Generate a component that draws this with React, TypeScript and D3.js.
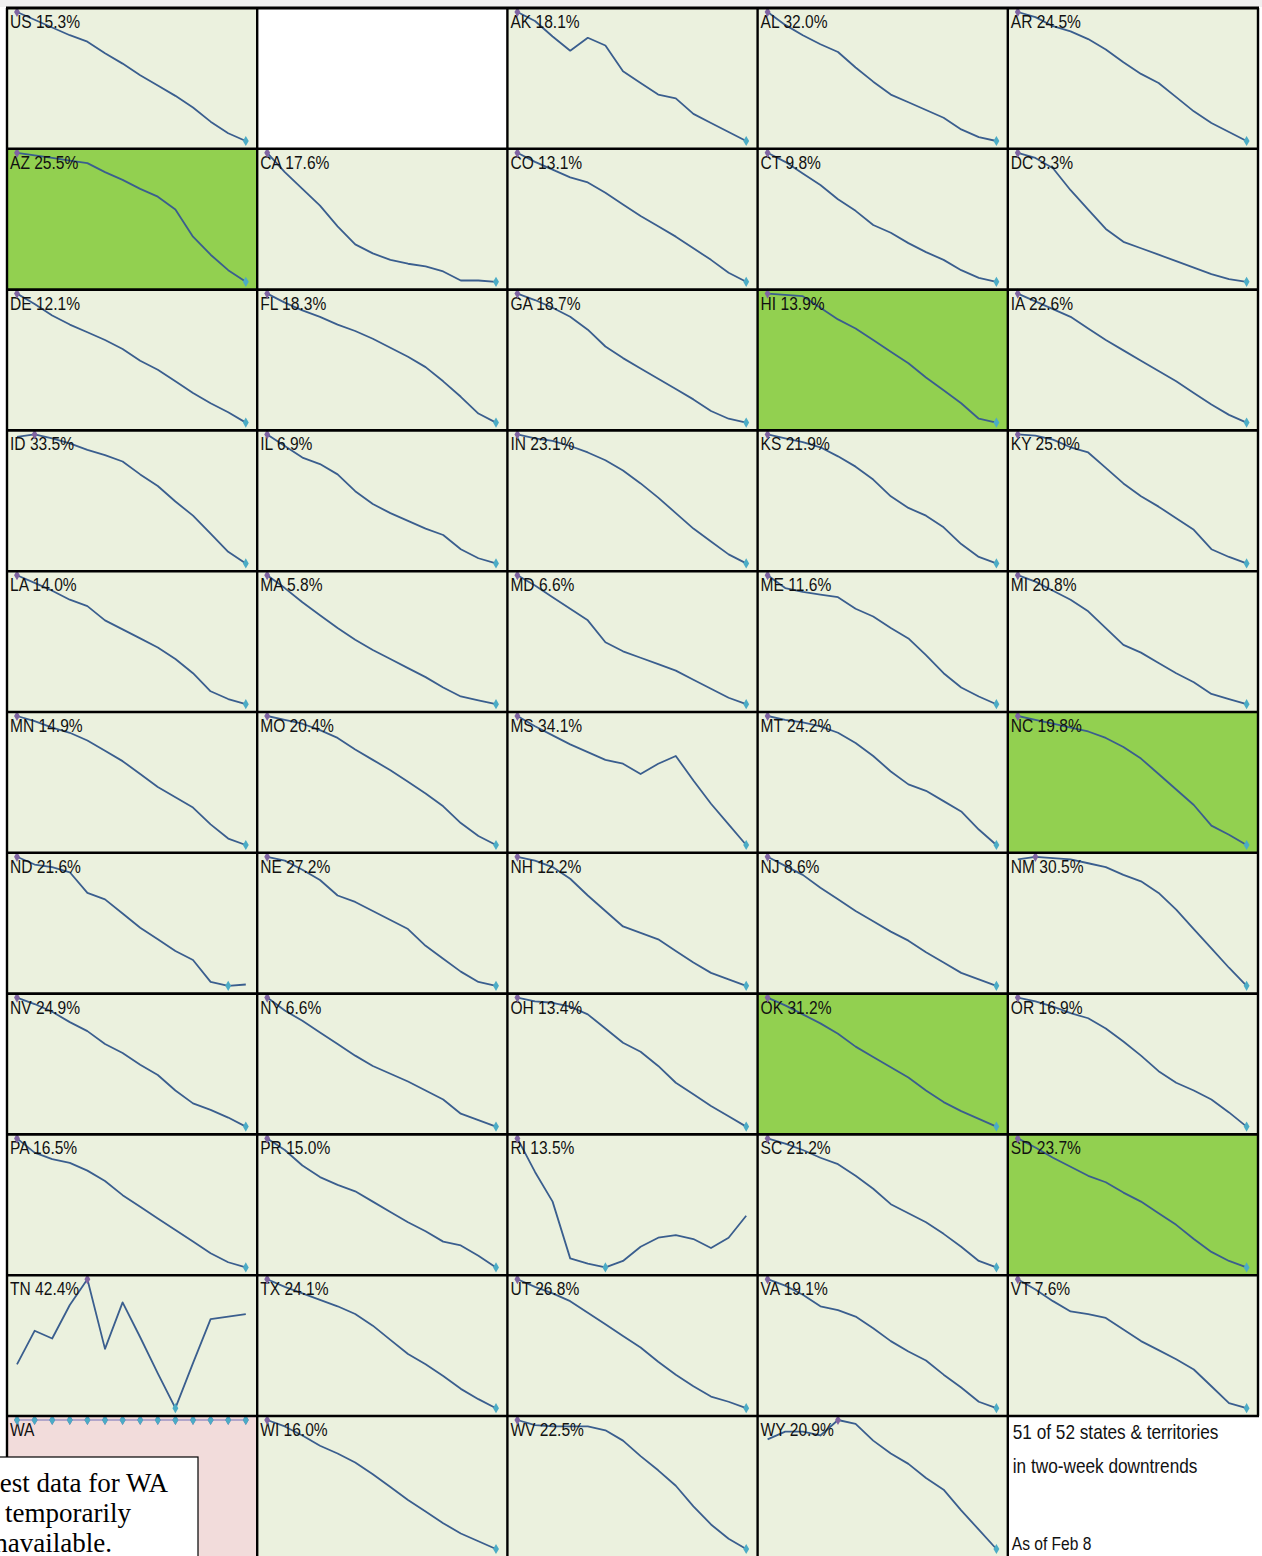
import { useEffect } from "react";
import * as d3 from "d3";

// grid order, 5 per row; null = empty slot
const CODES = [
  "US", null, "AK", "AL", "AR",
  "AZ", "CA", "CO", "CT", "DC",
  "DE", "FL", "GA", "HI", "IA",
  "ID", "IL", "IN", "KS", "KY",
  "LA", "MA", "MD", "ME", "MI",
  "MN", "MO", "MS", "MT", "NC",
  "ND", "NE", "NH", "NJ", "NM",
  "NV", "NY", "OH", "OK", "OR",
  "PA", "PR", "RI", "SC", "SD",
  "TN", "TX", "UT", "VA", "VT",
  "WA", "WI", "WV", "WY", null,
];

const CHANGES = [
  "15.3%", null, "18.1%", "32.0%", "24.5%",
  "25.5%", "17.6%", "13.1%", "9.8%", "3.3%",
  "12.1%", "18.3%", "18.7%", "13.9%", "22.6%",
  "33.5%", "6.9%", "23.1%", "21.9%", "25.0%",
  "14.0%", "5.8%", "6.6%", "11.6%", "20.8%",
  "14.9%", "20.4%", "34.1%", "24.2%", "19.8%",
  "21.6%", "27.2%", "12.2%", "8.6%", "30.5%",
  "24.9%", "6.6%", "13.4%", "31.2%", "16.9%",
  "16.5%", "15.0%", "13.5%", "21.2%", "23.7%",
  "42.4%", "24.1%", "26.8%", "19.1%", "7.6%",
  "", "16.0%", "22.5%", "20.9%", null,
];

const HIGHLIGHT = ["AZ", "HI", "NC", "OK", "SD"];
const MISSING = ["WA"];

// 14 readings per state, relative index
const US = [100, 94, 88, 82, 77, 68, 60, 51, 43, 35, 26, 15, 6, 0];
const AK = [100, 93, 81, 70, 80, 74, 54, 45, 36, 33, 21, 14, 7, 0];
const AL = [100, 90, 82, 75, 69, 57, 46, 36, 30, 24, 18, 9, 3, 0];
const AR = [100, 96, 89, 85, 79, 71, 61, 52, 45, 34, 23, 14, 7, 0];
const AZ = [100, 98, 96, 94, 92, 85, 79, 72, 66, 56, 35, 21, 9, 0];
const CA = [100, 85, 72, 59, 43, 29, 22, 17, 14, 12, 8, 1, 1, 0];
const CO = [100, 93, 87, 81, 77, 69, 60, 51, 43, 35, 26, 17, 7, 0];
const CT = [100, 93, 84, 75, 64, 55, 44, 38, 30, 23, 17, 9, 3, 0];
const DC = [100, 96, 88, 71, 56, 41, 31, 26, 21, 16, 11, 6, 2, 0];
const DE = [100, 92, 83, 76, 70, 64, 57, 48, 41, 32, 23, 15, 8, 0];
const FL = [100, 93, 87, 82, 76, 71, 65, 58, 51, 43, 32, 20, 7, 0];
const GA = [100, 95, 89, 82, 72, 59, 50, 42, 34, 26, 18, 9, 3, 0];
const HI = [100, 99, 98, 89, 80, 73, 64, 55, 46, 35, 25, 15, 3, 0];
const IA = [100, 94, 88, 82, 73, 64, 56, 48, 40, 32, 23, 14, 6, 0];
const ID = [98, 100, 97, 93, 88, 84, 79, 69, 60, 48, 37, 23, 9, 0];
const IL = [100, 91, 82, 77, 69, 56, 46, 39, 33, 27, 22, 11, 4, 0];
const IN = [100, 97, 95, 91, 86, 80, 72, 62, 51, 39, 27, 17, 7, 0];
const KS = [100, 97, 94, 90, 83, 75, 65, 52, 43, 37, 28, 15, 5, 0];
const KY = [100, 99, 96, 90, 86, 74, 62, 52, 44, 35, 26, 11, 5, 0];
const LA = [100, 94, 88, 81, 76, 65, 58, 51, 44, 35, 24, 10, 4, 0];
const MA = [100, 90, 79, 69, 59, 50, 42, 35, 28, 21, 13, 6, 3, 0];
const MD = [100, 92, 83, 74, 65, 48, 41, 36, 31, 26, 19, 12, 5, 0];
const ME = [100, 90, 87, 85, 83, 74, 68, 59, 51, 38, 24, 13, 6, 0];
const MI = [100, 95, 88, 81, 72, 59, 46, 40, 32, 24, 17, 8, 4, 0];
const MN = [100, 96, 91, 87, 81, 73, 65, 55, 45, 37, 29, 16, 5, 0];
const MO = [100, 97, 94, 89, 83, 74, 66, 58, 49, 40, 30, 17, 7, 0];
const MS = [100, 92, 85, 78, 72, 66, 63, 55, 63, 69, 50, 32, 16, 0];
const MT = [100, 97, 95, 92, 87, 79, 69, 57, 47, 42, 34, 26, 12, 0];
const NC = [100, 97, 94, 91, 88, 83, 76, 67, 55, 43, 31, 15, 8, 0];
const ND = [100, 94, 92, 88, 72, 67, 56, 45, 36, 27, 20, 3, 0, 1];
const NE = [100, 97, 90, 82, 70, 65, 58, 51, 44, 31, 21, 11, 3, 0];
const NH = [100, 97, 92, 83, 70, 58, 46, 41, 36, 27, 18, 10, 5, 0];
const NJ = [100, 93, 86, 76, 67, 58, 50, 42, 35, 26, 18, 10, 5, 0];
const NM = [98, 100, 99, 98, 95, 92, 86, 81, 72, 59, 44, 29, 14, 0];
const NV = [100, 95, 89, 81, 74, 64, 57, 48, 40, 28, 18, 13, 7, 0];
const NY = [100, 90, 82, 73, 64, 55, 47, 41, 35, 28, 21, 10, 5, 0];
const OH = [100, 97, 96, 93, 87, 76, 65, 58, 47, 34, 25, 16, 8, 0];
const OK = [100, 94, 87, 80, 72, 62, 54, 46, 38, 28, 19, 12, 6, 0];
const OR = [100, 97, 93, 88, 84, 76, 66, 55, 43, 34, 28, 21, 11, 0];
const PA = [100, 89, 84, 81, 75, 67, 56, 47, 38, 29, 20, 11, 4, 0];
const PR = [100, 91, 79, 70, 64, 59, 51, 43, 35, 28, 20, 17, 9, 0];
const RI = [100, 74, 51, 7, 3, 0, 5, 16, 23, 25, 22, 15, 23, 40];
const SC = [100, 96, 91, 85, 80, 71, 61, 49, 42, 35, 26, 16, 5, 0];
const SD = [100, 93, 85, 78, 71, 66, 58, 51, 42, 33, 22, 12, 5, 0];
const TN = [34, 60, 54, 80, 100, 46, 82, 55, 27, 0, 35, 69, 71, 73];
const TX = [100, 94, 89, 84, 79, 73, 64, 53, 42, 34, 25, 15, 7, 0];
const UT = [100, 94, 89, 83, 74, 65, 56, 47, 36, 26, 17, 9, 5, 0];
const VA = [100, 95, 88, 79, 76, 71, 62, 52, 44, 37, 26, 16, 5, 0];
const VT = [100, 92, 83, 75, 73, 70, 61, 52, 45, 38, 30, 17, 4, 0];
const WA = [0, 0, 0, 0, 0, 0, 0, 0, 0, 0, 0, 0, 0, 0];
const WI = [100, 95, 88, 80, 74, 67, 58, 48, 38, 29, 20, 12, 6, 0];
const WV = [100, 96, 95, 95, 95, 92, 84, 72, 61, 49, 33, 19, 8, 0];
const WY = [85, 91, 91, 88, 100, 97, 84, 74, 66, 55, 46, 30, 15, 0];

const SERIES: Record<string, number[]> = {
  US, AK, AL, AR, AZ, CA, CO, CT, DC, DE, FL, GA, HI, IA, ID, IL, IN, KS, KY,
  LA, MA, MD, ME, MI, MN, MO, MS, MT, NC, ND, NE, NH, NJ, NM, NV, NY, OH, OK,
  OR, PA, PR, RI, SC, SD, TN, TX, UT, VA, VT, WA, WI, WV, WY,
};

const W = 1262, H = 1556;
const NCOL = 5, NROW = 11;
const GX = 7, GY = 8;
const CW = 250.2, CH = 140.8;

const BG = "#EBF1DE";
const GREEN = "#92D050";
const PINK = "#F2DCDB";
const LINE = "#3a5e8e";
const MAXC = "#8064A2";
const MINC = "#4BACC6";
// no narrow face installed: squeeze Arial-metric Liberation Sans like Arial Narrow
const SANS = "'Liberation Sans', Arial, sans-serif";
const NARROW = 0.82;
const SERIF = "'Liberation Serif', 'Times New Roman', serif";

const diamond = d3.symbol().type(d3.symbolDiamond).size(30);

function Narrow({ x, y, size, children }: { x: number; y: number; size: number; children: React.ReactNode }) {
  return (
    <text transform={`translate(${x},${y}) scale(${NARROW},1)`} fontFamily={SANS} fontSize={size} fill="#111">
      {children}
    </text>
  );
}

function Spark({ code, pct, col, row }: { code: string; pct: string; col: number; row: number }) {
  const values = SERIES[code];
  const x0 = GX + col * CW, y0 = GY + row * CH;
  const [lo, hi] = d3.extent(values) as [number, number];
  const flat = lo === hi;
  const x = d3.scaleLinear().domain([0, values.length - 1]).range([x0 + 10, x0 + 238.8]);
  const y = d3.scaleLinear().domain(flat ? [lo - 1, lo] : [lo, hi]).range([y0 + 133, y0 + 4]);
  const line = d3.line<number>().x((_, i) => x(i)).y(d => y(d));
  const missing = MISSING.includes(code);
  const fill = missing ? PINK : HIGHLIGHT.includes(code) ? GREEN : BG;

  return (
    <g>
      <rect x={x0} y={y0} width={CW} height={CH} fill={fill} />
      <path d={line(values)!} fill="none" stroke={missing ? "#9d95c4" : LINE}
        strokeWidth={missing ? 1.3 : 1.8} strokeLinejoin="round" />
      <Narrow x={x0 + 3} y={y0 + 20} size={19}>{pct ? `${code} ${pct}` : code}</Narrow>
      {values.map((v, i) => v === hi ? (
        <path key={"mx" + i} d={diamond()!} transform={`translate(${x(i)},${y(v)})`} fill={MAXC} />
      ) : null)}
      {values.map((v, i) => v === lo ? (
        <path key={"mn" + i} d={diamond()!} transform={`translate(${x(i)},${y(v)})`} fill={MINC} />
      ) : null)}
    </g>
  );
}

export default function App() {
  useEffect(() => {
    document.body.style.margin = "0";
  }, []);

  const cells = CODES.map((code, k) => ({ code, pct: CHANGES[k], col: k % NCOL, row: Math.floor(k / NCOL) }));
  const vLines = d3.range(NCOL + 1);
  const hLines = d3.range(NROW);
  const txX = GX + 4 * CW;
  const txY = GY + 10 * CH;

  return (
    <svg width={W} height={H} style={{ display: "block" }}>
      <rect x={0} y={0} width={W} height={H} fill="#fff" />
      <rect x={0} y={0} width={W} height={7} fill="#f0f0f0" />
      {cells.map((c, k) => c.code ? (
        <Spark key={k} code={c.code} pct={c.pct as string} col={c.col} row={c.row} />
      ) : null)}

      {hLines.map(r => (
        <line key={"h" + r} x1={GX - 1} x2={GX + NCOL * CW + 1} y1={GY + r * CH} y2={GY + r * CH}
          stroke="#000" strokeWidth={r === 0 ? 3 : 2.6} />
      ))}
      {vLines.map(c => (
        <line key={"v" + c} x1={GX + c * CW} x2={GX + c * CW} y1={GY}
          y2={c === NCOL ? GY + 10 * CH : H} stroke="#000" strokeWidth={2.4} />
      ))}

      <Narrow x={txX + 5} y={txY + 23} size={21}>51 of 52 states &amp; territories</Narrow>
      <Narrow x={txX + 5} y={txY + 57} size={21}>in two-week downtrends</Narrow>
      <Narrow x={txX + 4} y={txY + 134} size={19}>As of Feb 8</Narrow>

      {/* note box runs off the left edge of the page, as in the original */}
      <rect x={-2} y={1457} width={200} height={120} fill="#fff" stroke="#000" strokeWidth={1.2} />
      <text fontFamily={SERIF} fontSize={27} fill="#000" textAnchor="end">
        <tspan x={168} y={1492}>Latest data for WA</tspan>
        <tspan x={131} y={1522}>is temporarily</tspan>
        <tspan x={112} y={1552}>unavailable.</tspan>
      </text>
    </svg>
  );
}
